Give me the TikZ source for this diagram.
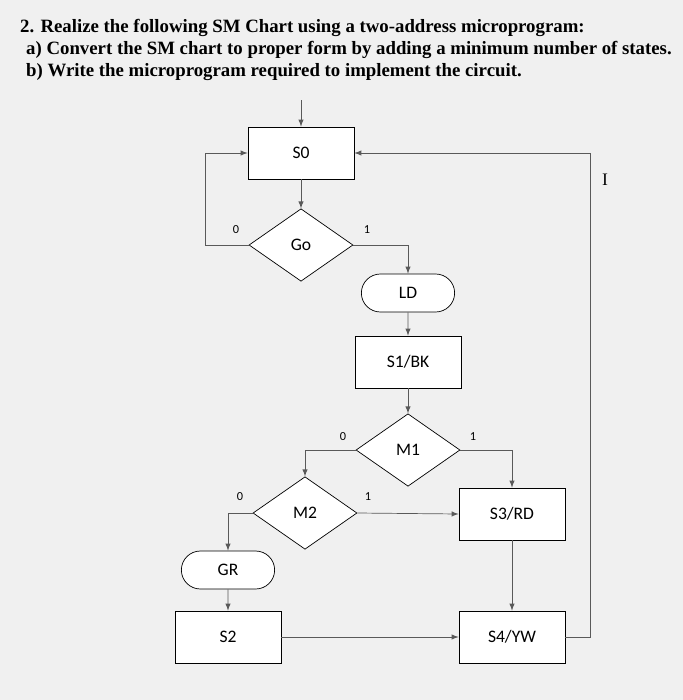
\documentclass[tikz,border=0pt]{standalone}
\usepackage{fontspec}
\setmainfont{Liberation Serif}
\newfontfamily\chartfont{Carlito}
\usetikzlibrary{shapes,arrows,positioning}
\begin{document}
\begin{tikzpicture}[x=0.02cm,y=-0.02cm,
    title/.style={anchor=west,font=\bfseries\fontsize{10.7}{13}\selectfont},
    state/.style={draw,fill=white,minimum width=2.12cm,minimum height=1.04cm,font=\chartfont},
    cond/.style={draw,fill=white,diamond,aspect=1.45,minimum width=2.08cm,minimum height=1.45cm,inner sep=0pt,font=\chartfont},
    outp/.style={draw,fill=white,rounded rectangle,minimum width=2.1cm,minimum height=0.76cm,font=\chartfont},
    lbl/.style={font=\chartfont\scriptsize},
    flow/.style={->,>=latex,gray!70!black}]
    \useasboundingbox (0,0) rectangle (683,700);
    % paper
    \fill[gray!12] (0,0) rectangle (683,700);
    % title
    \node[title] (t1) at (14,28) {2. Realize the following SM Chart using a two-address microprogram:};
    \node[title] (t2) at (20,50) {a) Convert the SM chart to proper form by adding a minimum number of states.};
    \node[title] (t3) at (20,72) {b) Write the microprogram required to implement the circuit.};

    % states and boxes
    \node[state] (s0) at (301,153) {S0};
    \node[cond] (go) at (301,245) {Go};
    \node[outp] (ld) at (408,293) {LD};
    \node[state] (s1) at (408,362) {S1/BK};
    \node[cond] (m1) at (408,450) {M1};
    \node[cond] (m2) at (305,513) {M2};
    \node[state] (s3) at (512,514) {S3/RD};
    \node[outp] (gr) at (228,570) {GR};
    \node[state] (s2) at (228,637) {S2};
    \node[state] (s4) at (512,637) {S4/YW};
    \coordinate (in) at (301,100);
    \node (cur) at (605,180) {$\mathrm{I}$};

    % connectors
    \draw[flow] (in) -- (s0);
    \draw[flow] (s0) -- (go);
    \draw[flow] (go.west) -| ++(-43,0) |- (s0.west);
    \draw[flow] (go.east) -| (ld.north);
    \draw[flow] (ld) -- (s1);
    \draw[flow] (s1) -- (m1);
    \draw[flow] (m1.west) -| (m2.north);
    \draw[flow] (m1.east) -| (s3.north);
    \draw[flow] (m2.west) -| (gr.north);
    \draw[flow] (m2.east) -- (s3.west);
    \draw[flow] (gr) -- (s2);
    \draw[flow] (s2) -- (s4);
    \draw[flow] (s3) -- (s4);
    \draw[flow] (s4.east) -- ++(25,0) |- (s0.east);

    % branch labels
    \node[lbl] (g0) at (236,230) {0};
    \node[lbl] (g1) at (367,230) {1};
    \node[lbl] (a0) at (343,437) {0};
    \node[lbl] (a1) at (473,437) {1};
    \node[lbl] (b0) at (240,497) {0};
    \node[lbl] (b1) at (368,497) {1};
\end{tikzpicture}
\end{document}
